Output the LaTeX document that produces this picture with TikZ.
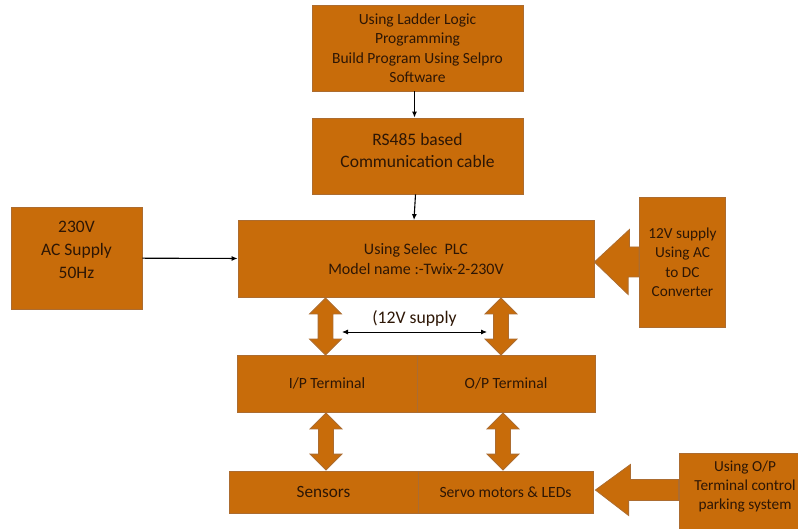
\documentclass[tikz,border=0pt]{standalone}
\usepackage{fontspec}
\setmainfont{Carlito}
\usetikzlibrary{shapes.arrows}
\usetikzlibrary{arrows.meta}
\definecolor{boxfill}{RGB}{200,108,10}
\definecolor{boxline}{RGB}{172,108,48}
\definecolor{boxtext}{RGB}{45,22,5}
\begin{document}
\begin{tikzpicture}[x=1pt,y=-1pt,>={Latex[length=6pt,width=5pt]},
  block/.style={rectangle,draw=boxline,line width=0.8pt,fill=boxfill,text=boxtext,align=center,inner sep=0pt},
  updown/.style={double arrow,draw=boxline,line width=0.8pt,fill=boxfill,shape border rotate=90,
    double arrow head extend=8.5pt,minimum height=57pt,inner sep=0pt},
  feed/.style={draw=boxline,line width=0.8pt,fill=boxfill,line join=miter},
  link/.style={line width=1.1pt}]
\useasboundingbox (0,0) rectangle (798,529);
\clip (0,0) rectangle (798,529);

\node [block,minimum width=211pt,minimum height=86pt,font=\fontsize{15.5}{19.5}\selectfont] (prog) at (417.5,48)
  {Using Ladder Logic\\Programming\\Build Program Using Selpro\\Software};
\node [block,minimum width=211pt,minimum height=76pt,font=\fontsize{17.5}{22}\selectfont] (rs485) at (417.5,156)
  {RS485 based\\Communication cable\\[-10pt]};
\node [block,minimum width=356pt,minimum height=77pt,font=\fontsize{16}{20}\selectfont] (plc) at (416,259)
  {Using Selec\ \ PLC\\Model name :-Twix-2-230V};
\node [block,minimum width=131pt,minimum height=102pt,font=\fontsize{17.5}{23}\selectfont] (acin) at (76.5,258)
  {230V\\AC Supply\\50Hz\\[-7pt]};
\node [block,minimum width=86pt,minimum height=130pt,font=\fontsize{15.3}{19.5}\selectfont] (dcconv) at (682.5,262)
  {12V supply\\Using AC\\to DC\\Converter};
\node [block,minimum width=180pt,minimum height=57pt,font=\fontsize{15.6}{19}\selectfont] (ipterm) at (327,383.5)
  {I/P Terminal};
\node [block,minimum width=178pt,minimum height=57pt,font=\fontsize{15.6}{19}\selectfont] (opterm) at (506,383.5)
  {O/P Terminal};
\node [block,minimum width=189pt,minimum height=42pt,font=\fontsize{17.2}{21}\selectfont] (sensors) at (323.5,492)
  {Sensors};
\node [block,minimum width=175pt,minimum height=42pt,font=\fontsize{15.6}{19}\selectfont] (servo) at (505.5,492)
  {Servo motors \& LEDs};
\node [block,minimum width=132pt,minimum height=78pt,font=\fontsize{15.3}{19}\selectfont] (parking) at (745,492)
  {Using O/P\\Terminal control\\parking system\\[-5pt]};

% thick two-way arrows
\node [updown] (ipup) at (325.5,326.5) {\rule{14pt}{0pt}};
\node [updown] (opup) at (501,326.5) {\rule{14pt}{0pt}};
\node [updown] (ipdown) at (326,441.5) {\rule{14pt}{0pt}};
\node [updown] (opdown) at (503,441.5) {\rule{14pt}{0pt}};

% feeding arrows
\coordinate (dctip) at (plc.east |- dcconv);
\coordinate (parktip) at ([xshift=2pt]servo.east |- 0,490);
\draw [feed] (dctip) -- ++(35,-32.5) -- ++(0,17.5) -- (dcconv.west |- 0,247)
  -- (dcconv.west |- 0,277) -- ++(-11,0) -- ++(0,17.5) -- cycle;
\draw [feed] (parktip) -- ++(35,-25.5) -- ++(0,15) -- (parking.west |- 0,479.5)
  -- (parking.west |- 0,500.5) -- ++(-50,0) -- ++(0,15) -- cycle;

\coordinate (supl) at (342,332);
\coordinate (supr) at (487,332);

\draw [link,->] ([xshift=-3pt]prog.south) -- ([xshift=-3pt]rs485.north);
\draw [link,->] ([xshift=-2pt]rs485.south) -- ([xshift=-2pt]plc.north);
\draw [link,->] (acin) -- (plc);
\draw [<->,line width=0.9pt] (supl) -- (supr)
  node [midway,above=2pt,text=boxtext,font=\fontsize{17.7}{21}\selectfont] (suptext) {(12V supply};
\end{tikzpicture}
\end{document}
